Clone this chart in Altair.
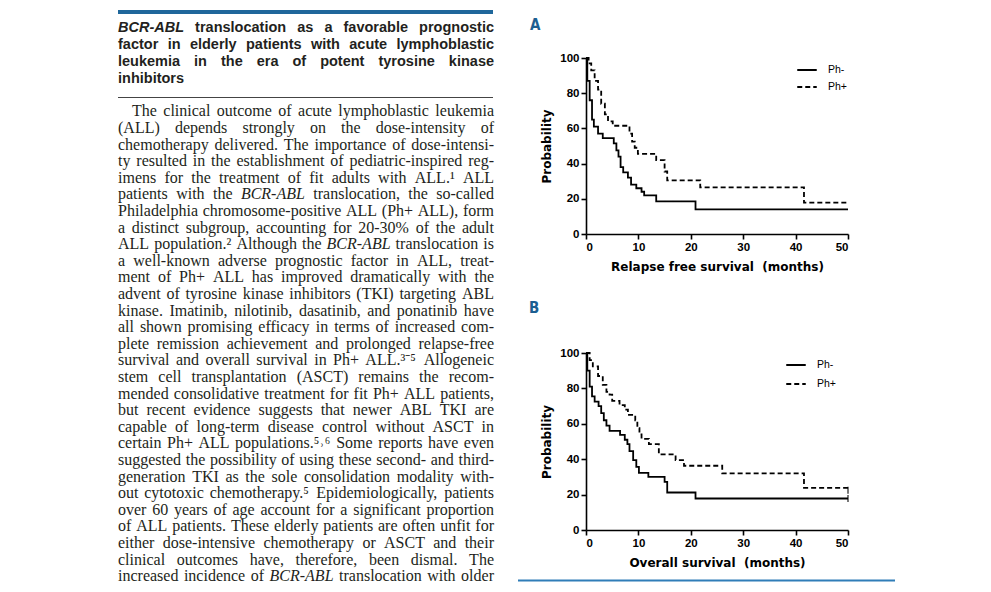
import altair as alt
import pandas as pd

# ---------------- data ----------------
# Panel A: relapse free survival (months, probability %)
A_neg_t = [0, 0.25, 0.7, 1.15, 1.5, 2.3, 3.2, 5.3, 5.8, 6.2, 6.6, 7.1, 8.0, 8.6, 9.6, 10.6, 11.1, 13.4, 20.9, 50]
A_neg_s = [100, 87, 76, 65, 61, 57, 54.5, 51.5, 47.5, 44, 38, 35, 32, 28, 26, 24, 22, 18.5, 14, 14]
A_pos_t = [0, 0.5, 1.0, 1.65, 2.3, 2.9, 3.6, 4.2, 5.1, 8.3, 8.8, 9.3, 9.9, 13.4, 15.0, 15.5, 21.8, 41.6, 50]
A_pos_s = [100, 97, 93, 87, 82, 74, 68, 64, 61.5, 57, 52.5, 49, 45.5, 42, 35.5, 30.5, 26.5, 17.8, 17.8]

# Panel B: overall survival
B_neg_t = [0, 0.25, 0.7, 1.15, 1.65, 2.4, 2.9, 3.4, 3.9, 4.5, 6.5, 7.4, 7.9, 8.3, 9.0, 9.6, 10.1, 11.9, 15.0, 15.5, 20.9, 50]
B_neg_s = [100, 90, 81, 75.5, 72.5, 70, 66, 62, 59, 56, 53.7, 51, 48.5, 44.6, 39.5, 35.7, 32.3, 30, 27.2, 21.2, 17.8, 17.8]
B_pos_t = [0, 0.7, 1.3, 2.3, 3.2, 3.9, 4.5, 5.0, 6.4, 7.4, 8.0, 9.4, 9.8, 10.2, 10.6, 12.0, 13.9, 17.1, 18.7, 26.0, 41.6, 50]
B_pos_s = [100, 96, 92.5, 87, 82, 78, 76.5, 73, 70.5, 68, 65, 62, 57.5, 54, 51.5, 48.5, 42.7, 39.5, 36.3, 32, 23.8, 23.8]

# censored observations at end of follow-up (panel B)
B_cens_group = ["Ph-", "Ph+"]
B_cens_t = [50, 50]
B_cens_s = [17.8, 22.5]

groups = ["Ph-", "Ph+"]
x_ticks = [0, 10, 20, 30, 40, 50]
y_ticks = [0, 20, 40, 60, 80, 100]

italic_words = ["BCR-ABL"]

title_lines = [
    "BCR-ABL translocation as a favorable prognostic",
    "factor in elderly patients with acute lymphoblastic",
    "leukemia in the era of potent tyrosine kinase",
    "inhibitors",
]

body_lines = [
    "The clinical outcome of acute lymphoblastic leukemia",
    "(ALL) depends strongly on the dose-intensity of",
    "chemotherapy delivered. The importance of dose-intensi-",
    "ty resulted in the establishment of pediatric-inspired reg-",
    "imens for the treatment of fit adults with ALL.\u00b9 ALL",
    "patients with the BCR-ABL translocation, the so-called",
    "Philadelphia chromosome-positive ALL (Ph+ ALL), form",
    "a distinct subgroup, accounting for 20-30% of the adult",
    "ALL population.\u00b2 Although the BCR-ABL translocation is",
    "a well-known adverse prognostic factor in ALL, treat-",
    "ment of Ph+ ALL has improved dramatically with the",
    "advent of tyrosine kinase inhibitors (TKI) targeting ABL",
    "kinase. Imatinib, nilotinib, dasatinib, and ponatinib have",
    "all shown promising efficacy in terms of increased com-",
    "plete remission achievement and prolonged relapse-free",
    "survival and overall survival in Ph+ ALL.\u00b3\u207b\u2075 Allogeneic",
    "stem cell transplantation (ASCT) remains the recom-",
    "mended consolidative treatment for fit Ph+ ALL patients,",
    "but recent evidence suggests that newer ABL TKI are",
    "capable of long-term disease control without ASCT in",
    "certain Ph+ ALL populations.\u2075\u02d2\u2076 Some reports have even",
    "suggested the possibility of using these second- and third-",
    "generation TKI as the sole consolidation modality with-",
    "out cytotoxic chemotherapy.\u2075 Epidemiologically, patients",
    "over 60 years of age account for a significant proportion",
    "of ALL patients. These elderly patients are often unfit for",
    "either dose-intensive chemotherapy or ASCT and their",
    "clinical outcomes have, therefore, been dismal. The",
    "increased incidence of BCR-ABL translocation with older",
]

# ---------------- font metrics (per 1000 em) used to justify the text column ----------------
TIMES = dict(zip(
    " !()*+,-./0123456789:;?%&",
    [250, 333, 333, 333, 500, 564, 250, 333, 250, 278] + [500] * 10 + [278, 278, 444, 833, 778]))
TIMES.update(dict(zip("ABCDEFGHIJKLMNOPQRSTUVWXYZ",
    [722, 667, 667, 722, 611, 556, 722, 722, 333, 389, 722, 611, 889, 722, 722, 556, 722, 667, 556, 611, 722, 722, 944, 722, 722, 611])))
TIMES.update(dict(zip("abcdefghijklmnopqrstuvwxyz",
    [444, 500, 444, 500, 444, 333, 500, 500, 278, 278, 500, 278, 778, 500, 500, 500, 500, 333, 389, 278, 500, 500, 722, 500, 500, 444])))
TIMES.update({"\u00b9": 300, "\u00b2": 300, "\u00b3": 300, "\u207b": 380, "\u2075": 380, "\u2076": 380, "\u02d2": 300})
TIMES_IT = dict(TIMES)
TIMES_IT.update({"B": 611, "R": 611, "A": 611, "L": 556})

HELV_B = dict(zip(" ,-.()", [278, 278, 333, 278, 333, 333]))
HELV_B.update(dict(zip("ABCDEFGHIJKLMNOPQRSTUVWXYZ",
    [722, 722, 722, 722, 667, 611, 778, 722, 278, 556, 722, 611, 833, 722, 778, 667, 778, 722, 667, 611, 722, 667, 944, 667, 667, 611])))
HELV_B.update(dict(zip("abcdefghijklmnopqrstuvwxyz",
    [556, 611, 556, 611, 556, 333, 611, 611, 278, 278, 556, 278, 889, 611, 611, 611, 611, 389, 556, 333, 611, 556, 778, 556, 556, 500])))


def text_width(word, table, size):
    return sum(table.get(c, 500) for c in word) * size / 1000.0


def justify(lines, size, table, table_it, left, right, first_indent=0.0, last_left=False):
    rows = []
    for i, line in enumerate(lines):
        words = line.split(" ")
        ws = [text_width(w, table_it if w in italic_words else table, size) for w in words]
        start = left + (first_indent if i == 0 else 0.0)
        if len(words) > 1 and not (last_left and i == len(lines) - 1):
            gap = (right - start - sum(ws)) / (len(words) - 1)
        else:
            gap = table[" "] * size / 1000.0
        x = start
        for w, wd in zip(words, ws):
            rows.append({"word": w, "x": x, "line": i, "it": 1 if w in italic_words else 0})
            x += wd + gap
    return pd.DataFrame(rows)


# ---------------- tables ----------------
def km_frame(neg_t, neg_s, pos_t, pos_s):
    return pd.DataFrame({
        "t": neg_t + pos_t,
        "s": neg_s + pos_s,
        "group": ["Ph-"] * len(neg_t) + ["Ph+"] * len(pos_t),
    })

dfA = km_frame(A_neg_t, A_neg_s, A_pos_t, A_pos_s)
dfB = km_frame(B_neg_t, B_neg_s, B_pos_t, B_pos_s)
dfBc = pd.DataFrame({"t": B_cens_t, "s": B_cens_s, "group": B_cens_group})

TITLE_SIZE = 14.5
BODY_SIZE = 16
df_title = justify(title_lines, TITLE_SIZE, HELV_B, HELV_B, 110, 486, last_left=True)
df_body = justify(body_lines, BODY_SIZE, TIMES, TIMES_IT, 110, 486, first_indent=14)

one = pd.DataFrame({"k": [0]})
TXT = "#231f20"
BLUE = "#1f679b"
PIX = alt.Scale(domain=[0, 975], range=[0, 975], nice=False)

# ---------------- page decorations ----------------
top_bar = alt.Chart(one).mark_rect(color=BLUE).encode(
    x=alt.value(110), x2=alt.value(485), y=alt.value(2), y2=alt.value(6))
sep_rule = alt.Chart(one).mark_rule(color="#444", strokeWidth=1).encode(
    x=alt.value(110), x2=alt.value(485), y=alt.value(89.5))
bottom_rule = alt.Chart(one).mark_rule(color="#2f7db8", strokeWidth=2).encode(
    x=alt.value(510), x2=alt.value(887), y=alt.value(572.5))


def word_layer(df, italic, font, size, weight, y_scale):
    return alt.Chart(df).transform_filter(f"datum.it == {1 if italic else 0}").mark_text(
        font=font, fontSize=size, fontWeight=weight, fontStyle="italic" if italic else "normal",
        color=TXT, align="left", baseline="alphabetic"
    ).encode(
        x=alt.X("x:Q", scale=PIX, axis=None),
        y=alt.Y("line:Q", scale=y_scale, axis=None),
        text="word:N",
    )

title_y = alt.Scale(domain=[0, 3], range=[24, 75], nice=False, zero=False)
body_y = alt.Scale(domain=[0, 28], range=[108.4, 108.4 + 16.6 * 28], nice=False, zero=False)

t_reg = word_layer(df_title, False, "Liberation Sans", TITLE_SIZE, "bold", title_y)
t_it = word_layer(df_title, True, "Liberation Sans", TITLE_SIZE, "bold", title_y)
b_reg = word_layer(df_body, False, "Liberation Serif", BODY_SIZE, "normal", body_y)
b_it = word_layer(df_body, True, "Liberation Serif", BODY_SIZE, "normal", body_y)

pfont = dict(font="DejaVu Sans Condensed, Liberation Sans, sans-serif", fontWeight="bold", fontSize=15,
             color="#1c5e91", align="left", baseline="alphabetic")
lab_A = alt.Chart(pd.DataFrame({"txt": ["A"]})).mark_text(**pfont).encode(
    x=alt.value(522), y=alt.value(22), text="txt:N")
lab_B = alt.Chart(pd.DataFrame({"txt": ["B"]})).mark_text(**pfont).encode(
    x=alt.value(521), y=alt.value(305), text="txt:N")

# ---------------- KM panels ----------------
axis_style = dict(
    grid=False, domainColor="black", domainWidth=1.6, tickColor="black", tickWidth=1.6, tickSize=5,
    labelFont="Liberation Sans", labelFontWeight="bold", labelFontSize=11.5, labelColor="black", labelPadding=2,
    titleFont="DejaVu Sans", titleFontWeight="bold", titleFontSize=12, titleColor="black",
)


def km_panel(df, y_range, x_off, y_off, xtitle, legx, legy, rowpad, cens=None):
    xenc = alt.X("t:Q", scale=alt.Scale(domain=[0, 50], range=[578, 840], nice=False),
                 axis=alt.Axis(orient="bottom", offset=x_off, values=x_ticks, title=xtitle,
                               titlePadding=9, **axis_style))
    yenc = alt.Y("s:Q", scale=alt.Scale(domain=[0, 100], range=y_range, nice=False),
                 axis=alt.Axis(orient="left", offset=y_off, values=y_ticks, title="Probability",
                               titlePadding=6, **axis_style))
    dash = alt.StrokeDash(
        "group:N",
        scale=alt.Scale(domain=groups, range=[[1, 0], [5, 3]]),
        legend=alt.Legend(orient="none", legendX=legx, legendY=legy, title=None, symbolType="stroke",
                          symbolSize=380, symbolStrokeWidth=1.8, symbolStrokeColor="black",
                          labelFont="Liberation Sans", labelFontSize=10.5, labelColor="black",
                          labelOffset=10, rowPadding=rowpad),
    )
    line = alt.Chart(df).mark_line(interpolate="step-after", color="black", strokeWidth=1.8).encode(
        x=xenc, y=yenc, strokeDash=dash, detail="group:N")
    if cens is None:
        return line
    ticks = alt.Chart(cens).mark_tick(orient="vertical", color="black", thickness=1.5, size=7).encode(
        x=xenc, y=yenc)
    return alt.layer(line, ticks)

panel_A = km_panel(dfA, [226, 50], -350, -578, "Relapse free survival\u00a0 (months)", 788, 51, 0)
panel_B = km_panel(dfB, [522, 345], -54, -578, "Overall survival\u00a0 (months)", 777, 346, 2, cens=dfBc)

chart = alt.layer(
    top_bar, sep_rule, bottom_rule, t_reg, t_it, b_reg, b_it, lab_A, lab_B, panel_A, panel_B
).resolve_scale(
    x="independent", y="independent", strokeDash="independent"
).properties(
    width=975, height=576, padding=0, autosize=alt.AutoSizeParams(type="none")
).configure_view(stroke="transparent")

chart.save("out.html", embed_options={"renderer": "svg", "actions": False})
